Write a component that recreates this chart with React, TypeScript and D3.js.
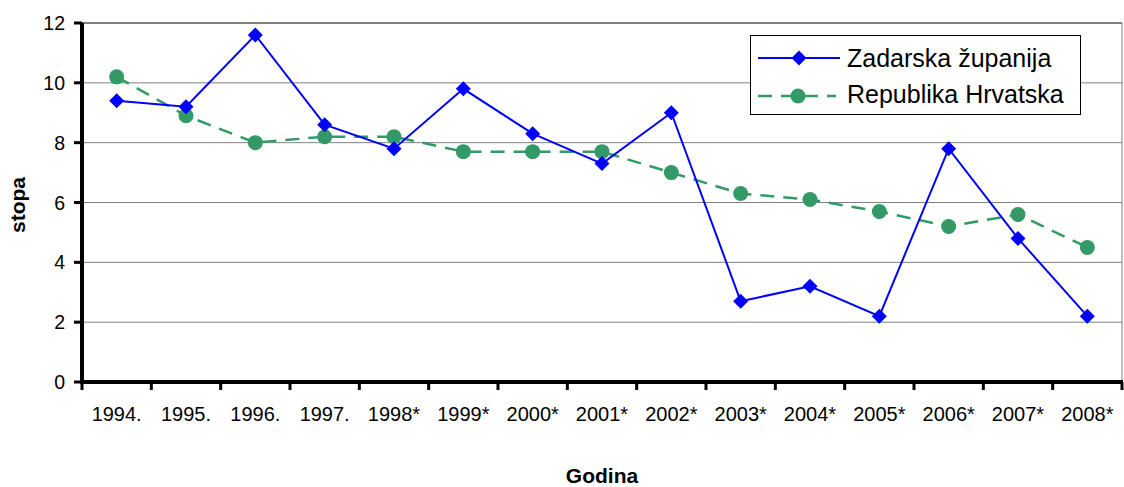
import React from "react";
import * as d3 from "d3";

const years = ["1994.", "1995.", "1996.", "1997.", "1998*", "1999*", "2000*", "2001*", "2002*", "2003*", "2004*", "2005*", "2006*", "2007*", "2008*"];
const zadarska = [9.4, 9.2, 11.6, 8.6, 7.8, 9.8, 8.3, 7.3, 9.0, 2.7, 3.2, 2.2, 7.8, 4.8, 2.2];
const hrvatska = [10.2, 8.9, 8.0, 8.2, 8.2, 7.7, 7.7, 7.7, 7.0, 6.3, 6.1, 5.7, 5.2, 5.6, 4.5];
const yTicks = [0, 2, 4, 6, 8, 10, 12];

const W = 1124;
const H = 487;
const left = 82;
const right = 1122;
const top = 23;
const bottom = 382;
const font = "Liberation Sans, Arial, sans-serif";

export default function App() {
  const x = d3.scaleBand<string>().domain(years).range([left, right]);
  const y = d3.scaleLinear().domain([0, 12]).range([bottom, top]);
  const cx = (i: number) => (x(years[i]) as number) + x.bandwidth() / 2;

  const line = d3
    .line<number>()
    .x((_, i) => cx(i))
    .y((d) => y(d));

  const diamond = (px: number, py: number, r = 7.5) =>
    `M${px},${py - r}L${px + r},${py}L${px},${py + r}L${px - r},${py}Z`;

  const boundaries = years.map((yr) => x(yr) as number).concat([right]);

  return (
    <div style={{ position: "absolute", left: 0, top: 0 }}>
      <svg width={W} height={H} style={{ display: "block", background: "#fff" }}>
        {/* grid */}
        {yTicks.slice(1, -1).map((t) => (
          <line key={t} x1={left} x2={right} y1={y(t)} y2={y(t)} stroke="#808080" strokeWidth={1} />
        ))}
        <line x1={left} x2={right} y1={y(12)} y2={y(12)} stroke="#000" strokeWidth={1} />
        <line x1={right} x2={right} y1={top} y2={bottom} stroke="#808080" strokeWidth={1} />

        {/* axes */}
        <line x1={left} x2={left} y1={top} y2={bottom + 2} stroke="#000" strokeWidth={4} />
        <line x1={left - 2} x2={right + 1} y1={bottom} y2={bottom} stroke="#000" strokeWidth={4} />
        {yTicks.map((t) => (
          <g key={t}>
            <line x1={left - 8} x2={left} y1={y(t)} y2={y(t)} stroke="#000" strokeWidth={3} />
            <text x={65} y={y(t) + 7} textAnchor="end" fontFamily={font} fontSize={19.5}>
              {t}
            </text>
          </g>
        ))}
        {boundaries.map((b, i) => (
          <line key={i} x1={b} x2={b} y1={bottom} y2={bottom + 8} stroke="#000" strokeWidth={3} />
        ))}
        {years.map((yr, i) => (
          <text key={yr} x={cx(i)} y={421} textAnchor="middle" fontFamily={font} fontSize={20}>
            {yr}
          </text>
        ))}

        {/* titles */}
        <text
          transform={`translate(25,205) rotate(-90)`}
          textAnchor="middle"
          fontFamily={font}
          fontSize={21}
          fontWeight="bold"
        >
          stopa
        </text>
        <text x={602} y={483} textAnchor="middle" fontFamily={font} fontSize={21} fontWeight="bold">
          Godina
        </text>

        {/* series */}
        <path d={line(hrvatska) || ""} fill="none" stroke="#339966" strokeWidth={2.5} strokeDasharray="14 9" />
        {hrvatska.map((v, i) => (
          <circle key={i} cx={cx(i)} cy={y(v)} r={7.5} fill="#339966" />
        ))}
        <path d={line(zadarska) || ""} fill="none" stroke="#0000FF" strokeWidth={2} />
        {zadarska.map((v, i) => (
          <path key={i} d={diamond(cx(i), y(v))} fill="#0000FF" />
        ))}

        {/* legend */}
        <rect x={750.5} y={35.5} width={330} height={79} fill="#fff" stroke="#000" strokeWidth={1} />
        <line x1={758} x2={840} y1={58} y2={58} stroke="#0000FF" strokeWidth={2} />
        <path d={diamond(799, 58)} fill="#0000FF" />
        <text x={847} y={67} fontFamily={font} fontSize={25}>
          Zadarska županija
        </text>
        <line x1={758} x2={836} y1={96} y2={96} stroke="#339966" strokeWidth={2.5} strokeDasharray="14 9" />
        <circle cx={798} cy={96} r={7.5} fill="#339966" />
        <text x={847} y={103} fontFamily={font} fontSize={25}>
          Republika Hrvatska
        </text>
      </svg>
    </div>
  );
}
